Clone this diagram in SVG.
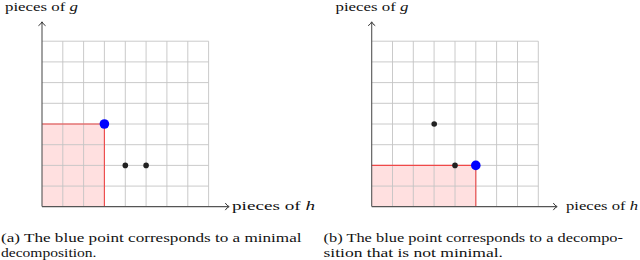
<svg xmlns="http://www.w3.org/2000/svg" width="640" height="260" viewBox="0 0 640 260">
<style>
.grid{stroke:#c4c4c4;stroke-width:0.9;fill:none}
.axis{stroke:#555;stroke-width:1.1;fill:none}
.head{stroke:#333;stroke-width:1;fill:none;stroke-linecap:round;stroke-linejoin:round}
.region{fill:#ff0000;fill-opacity:0.12;stroke:none}
.edge{fill:none;stroke:#f04848;stroke-width:1.1}
.blue{fill:#0000ff}
.black{fill:#222}
.t{fill:#111}
.lab{font-size:13.5px}
.cap{font-size:13px}
</style>
<defs>
<g id="gridlines">
<path class="grid" d="M42 41.2H208.6M42 61.9H208.6M42 82.6H208.6M42 103.3H208.6M42 124H208.6M42 144.7H208.6M42 165.4H208.6M42 186.1H208.6 M62.8 41.2V206.6M83.6 41.2V206.6M104.4 41.2V206.6M125.3 41.2V206.6M146.1 41.2V206.6M166.9 41.2V206.6M187.8 41.2V206.6M208.6 41.2V206.6"/>
</g>
</defs>
<g id="panel-a">
<rect class="region" x="42" y="124" width="62.4" height="82.6"/>
<use href="#gridlines"/>
<path class="edge" d="M42 124H104.4V206.6"/>
<g id="axes-a">
<path class="axis" d="M42 206.6H228.5M42 206.6V22.5"/>
<path class="head" d="M225.5 203.4Q227 205.8 229.2 206.6Q227 207.4 225.5 209.8"/>
<path class="head" d="M38.8 25.5Q41.2 24 42 21.8Q42.8 24 45.2 25.5"/>
</g>
<g id="points-a">
<circle class="black" cx="125.3" cy="165.4" r="2.8"/>
<circle class="black" cx="146.1" cy="165.4" r="2.8"/>
<circle class="blue" cx="104.4" cy="124" r="4.8"/>
</g>
<text class="t lab" font-family="Liberation Serif, Times New Roman, Tinos, DejaVu Serif, Noto Serif, serif" x="5" y="11" textLength="73" lengthAdjust="spacingAndGlyphs">pieces of <tspan font-style="italic">g</tspan></text>
<text class="t lab" font-family="Liberation Serif, Times New Roman, Tinos, DejaVu Serif, Noto Serif, serif" x="232" y="210" textLength="83" lengthAdjust="spacingAndGlyphs">pieces of <tspan font-style="italic">h</tspan></text>
<text class="t cap" font-family="Liberation Serif, Times New Roman, Tinos, DejaVu Serif, Noto Serif, serif" x="1" y="241.5" textLength="300.5" lengthAdjust="spacingAndGlyphs">(a) The blue point corresponds to a minimal</text>
<text class="t cap" font-family="Liberation Serif, Times New Roman, Tinos, DejaVu Serif, Noto Serif, serif" x="1" y="256.5" textLength="95.5" lengthAdjust="spacingAndGlyphs">decomposition.</text>
</g>
<g id="panel-b">
<rect class="region" x="371.7" y="165.4" width="104.1" height="41.2"/>
<use href="#gridlines" transform="translate(329.7 0)"/>
<path class="edge" d="M371.7 165.4H475.8V206.6"/>
<g id="axes-b">
<path class="axis" d="M371.7 206.6H556.5M371.7 206.6V22.5"/>
<path class="head" d="M553.5 203.4Q555 205.8 557.2 206.6Q555 207.4 553.5 209.8"/>
<path class="head" d="M368.5 25.5Q370.9 24 371.7 21.8Q372.5 24 374.9 25.5"/>
</g>
<g id="points-b">
<circle class="black" cx="434.2" cy="124" r="2.8"/>
<circle class="black" cx="455" cy="165.4" r="2.8"/>
<circle class="blue" cx="475.8" cy="165.4" r="4.8"/>
</g>
<text class="t lab" font-family="Liberation Serif, Times New Roman, Tinos, DejaVu Serif, Noto Serif, serif" x="335.5" y="11" textLength="73" lengthAdjust="spacingAndGlyphs">pieces of <tspan font-style="italic">g</tspan></text>
<text class="t lab" font-family="Liberation Serif, Times New Roman, Tinos, DejaVu Serif, Noto Serif, serif" x="566" y="210" textLength="72" lengthAdjust="spacingAndGlyphs">pieces of <tspan font-style="italic">h</tspan></text>
<text class="t cap" font-family="Liberation Serif, Times New Roman, Tinos, DejaVu Serif, Noto Serif, serif" x="323.5" y="241.5" textLength="299.5" lengthAdjust="spacingAndGlyphs">(b) The blue point corresponds to a decompo-</text>
<text class="t cap" font-family="Liberation Serif, Times New Roman, Tinos, DejaVu Serif, Noto Serif, serif" x="323.5" y="256.5" textLength="179.5" lengthAdjust="spacingAndGlyphs">sition that is not minimal.</text>
</g>
</svg>
